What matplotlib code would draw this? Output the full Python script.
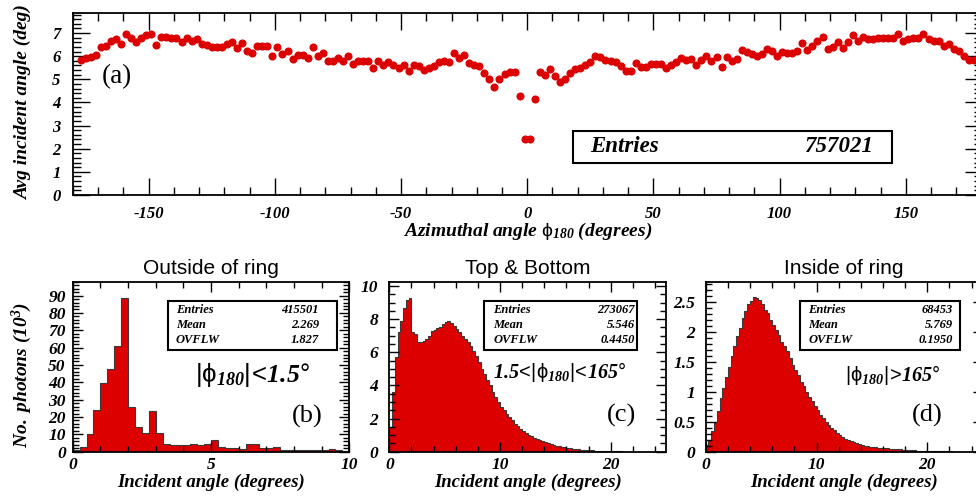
"""
Incident angle study: average incident angle vs azimuth (a)
and incident angle histograms for three azimuthal regions (b)-(d)
"""

import matplotlib
matplotlib.use('Agg')
import matplotlib.pyplot as plt
from matplotlib.patches import Rectangle
from matplotlib.ticker import MultipleLocator, FuncFormatter
import numpy as np

# ---- data ----
# (a) profile, 2 degree bins, centres -177 .. 177
phi_centers = np.arange(-177, 178, 2)
avg_angle = [
    5.84, 5.92, 5.95, 6.06, 6.38, 6.45, 6.67, 6.75, 6.52, 6.95,
    6.78, 6.61, 6.81, 6.90, 6.95, 6.49, 6.85, 6.82, 6.81, 6.81,
    6.61, 6.78, 6.67, 6.75, 6.52, 6.49, 6.38, 6.38, 6.42, 6.52,
    6.61, 6.35, 6.56, 6.23, 6.13, 6.46, 6.46, 6.46, 6.03, 6.38,
    6.09, 6.23, 5.89, 6.06, 6.06, 5.92, 6.42, 5.99, 6.13, 5.80,
    5.80, 5.92, 5.80, 5.99, 5.66, 5.80, 5.80, 5.80, 5.51,
    5.80, 5.63, 5.77, 5.60, 5.48, 5.60, 5.37, 5.63, 5.56, 5.41,
    5.48, 5.56, 5.77, 5.80, 5.74, 6.13, 5.94, 6.06, 5.70, 5.60,
    5.56, 5.27, 5.02, 4.69, 5.02, 5.22, 5.30, 5.30, 4.29, 2.41,
    2.41, 4.16, 5.30, 5.17, 5.45, 5.13, 4.88, 5.02, 5.27, 5.45,
    5.48, 5.63, 5.77, 6.03, 5.96, 5.84, 5.81, 5.77, 5.56, 5.38,
    5.38, 5.70, 5.53, 5.53, 5.67, 5.67, 5.67, 5.48, 5.63,
    5.74, 5.92, 5.82, 5.89, 5.63, 5.84, 6.03, 5.80, 5.96, 5.53,
    5.96, 5.80, 5.89, 6.28, 6.20, 6.10, 5.99, 6.09, 6.31, 6.23,
    6.02, 6.18, 6.13, 6.13, 6.23, 6.57, 6.25, 6.46, 6.64, 6.83,
    6.32, 6.39, 6.61, 6.35, 6.61, 6.90, 6.68, 6.85, 6.75, 6.74,
    6.81, 6.78, 6.78, 6.78, 6.95, 6.68, 6.75, 6.81, 6.78, 6.95,
    6.74, 6.68, 6.68, 6.46, 6.54, 6.32, 6.23, 5.99, 5.82, 5.82,
]

# (b) outside of ring, 0.25 degree bins 0..10 (10^3 photons)
edges_b = np.linspace(0, 10, 41)
counts_b = [
    0.8, 2.9, 10.4, 23.8, 39.7, 47.4, 60.8, 88.7, 25.7, 14.0,
    10.6, 23.6, 10.6, 4.4, 4.0, 3.8, 4.0, 4.2, 3.8, 4.2,
    6.5, 2.9, 2.3, 2.3, 1.7, 4.2, 4.4, 1.9, 1.9, 2.7,
    0.8, 0.8, 0.8, 0.8, 0.8, 0.8, 1.2, 1.3, 0.8, 0.4,
]

# (c) top & bottom, 0.25 degree bins 0..25
edges_c = np.linspace(0, 25, 101)
counts_c = [
    1.5, 3.6, 5.7, 7.2, 7.9, 8.7, 9.15, 9.3, 7.2, 7.1,
    6.6, 6.65, 6.7, 6.8, 7.0, 7.3, 7.35, 7.45, 7.55, 7.7,
    7.85, 7.9, 7.75, 7.6, 7.4, 7.2, 7.0, 6.8, 6.6, 6.4,
    6.1, 5.8, 5.4, 5.0, 4.7, 4.3, 4.0, 3.6, 3.3, 3.0,
    2.7, 2.5, 2.3, 2.1, 1.9, 1.7, 1.55, 1.4, 1.25, 1.1,
    1.0, 0.92, 0.85, 0.76, 0.68, 0.62, 0.56, 0.5, 0.44, 0.4,
    0.36, 0.32, 0.29, 0.26, 0.23, 0.2, 0.18, 0.16, 0.14, 0.13,
    0.11, 0.1, 0.09, 0.08, 0.07, 0.06, 0.05, 0.045, 0.04, 0.035,
    0.03, 0.025, 0.02, 0.015, 0.012, 0.01, 0.008, 0.006, 0.005, 0.004,
    0.003, 0.002, 0.002, 0.001, 0.001, 0, 0, 0, 0, 0,
]

# (d) inside of ring, 0.25 degree bins 0..25
edges_d = np.linspace(0, 25, 101)
counts_d = [
    0.11, 0.2, 0.34, 0.5, 0.68, 0.9, 1.06, 1.25, 1.42, 1.6,
    1.76, 1.93, 2.07, 2.23, 2.35, 2.46, 2.51, 2.58, 2.57, 2.53,
    2.46, 2.37, 2.31, 2.2, 2.12, 2.04, 1.95, 1.84, 1.76, 1.68,
    1.56, 1.45, 1.37, 1.28, 1.17, 1.09, 1.0, 0.92, 0.84, 0.76,
    0.69, 0.62, 0.56, 0.5, 0.45, 0.4, 0.36, 0.32, 0.28, 0.25,
    0.22, 0.2, 0.18, 0.16, 0.14, 0.13, 0.12, 0.1, 0.09, 0.085,
    0.08, 0.075, 0.07, 0.065, 0.06, 0.055, 0.05, 0.05, 0.045, 0.04,
    0.04, 0.035, 0.03, 0.03, 0.025, 0.025, 0.02, 0.02, 0.018, 0.015,
    0.015, 0.012, 0.01, 0.01, 0.008, 0.008, 0.006, 0.005, 0.004, 0.003,
    0.003, 0.002, 0.002, 0.001, 0.001, 0, 0, 0, 0, 0,
]

panel_titles = ['Outside of ring', 'Top & Bottom', 'Inside of ring']
panel_tags = ['(b)', '(c)', '(d)']
# \! cancels the automatic space mathtext puts round relations
cut_labels = [
    r'$\mathrm{|\phi}_{\mathbf{180}}\mathrm{|\!<\!}\mathbf{1.5}\mathrm{°}$',
    r'$\mathbf{1.5}\mathrm{\!<\!|\phi}_{\mathbf{180}}\mathrm{|\!<\!}\mathbf{165}\mathrm{°}$',
    r'$\mathrm{|\phi}_{\mathbf{180}}\mathrm{|\!>\!}\mathbf{165}\mathrm{°}$',
]
cut_sizes = [18.5, 14.5, 14.5]
stats = [
    ('415501', '2.269', '1.827'),
    ('273067', '5.546', '0.4450'),
    ('68453', '5.769', '0.1950'),
]
total_entries = '757021'

RED = '#dc0000'
W, H = 976, 497

plt.rcParams['font.family'] = ['Liberation Serif', 'DejaVu Serif']
plt.rcParams['font.weight'] = 'bold'
plt.rcParams['font.style'] = 'italic'
plt.rcParams['axes.unicode_minus'] = False
plt.rcParams['mathtext.fontset'] = 'custom'
plt.rcParams['mathtext.rm'] = 'Liberation Sans:normal:roman'
plt.rcParams['mathtext.it'] = 'Liberation Serif:normal:italic'
plt.rcParams['mathtext.bf'] = 'Liberation Serif:bold:italic'


def px_axes(fig, left, top, right, bottom):
    """Axes placed in pixel coordinates (origin top-left)"""
    return fig.add_axes([left / W, 1 - bottom / H, (right - left) / W, (bottom - top) / H])


def ftext(fig, x, y, s, **kw):
    return fig.text(x / W, 1 - y / H, s, **kw)


def box(fig, x0, y0, x1, y1, lw=1.5):
    fig.add_artist(Rectangle((x0 / W, 1 - y1 / H), (x1 - x0) / W, (y1 - y0) / H,
                             transform=fig.transFigure, fill=False, lw=lw, ec='black'))


def style_axis(ax, xmaj, xmin, ymaj, ymin, maj_len, min_len, padx, pady, size):
    ax.xaxis.set_major_locator(MultipleLocator(xmaj))
    ax.xaxis.set_minor_locator(MultipleLocator(xmin))
    ax.yaxis.set_major_locator(MultipleLocator(ymaj))
    ax.yaxis.set_minor_locator(MultipleLocator(ymin))
    fmt = FuncFormatter(lambda v, p: f'{v:g}')
    ax.xaxis.set_major_formatter(fmt)
    ax.yaxis.set_major_formatter(fmt)
    ax.tick_params(which='both', direction='in', top=True, right=True, width=1.0)
    ax.tick_params(which='major', length=maj_len)
    ax.tick_params(which='minor', length=min_len)
    ax.tick_params(axis='x', pad=padx, labelsize=size)
    ax.tick_params(axis='y', pad=pady, labelsize=size)
    for sp in ax.spines.values():
        sp.set_linewidth(1.3)


fig = plt.figure(figsize=(W / 100, H / 100), dpi=100)

# ---- (a) average incident angle vs azimuth ----
ax_a = px_axes(fig, 73, 13, 981.5, 195)
ax_a.plot(phi_centers, avg_angle, 'o', color=RED, ms=4.8, mec=RED)
ax_a.set_xlim(-180, 180)
ax_a.set_ylim(0, 7.87)
style_axis(ax_a, 50, 10, 1, 0.2, 12, 6, 8, 9, 12)
ftext(fig, 23, 103, 'Avg incident angle (deg)', rotation=90, ha='center', va='center', fontsize=14)
ftext(fig, 528, 235.5, r'$\mathbf{Azimuthal\ angle\ }\mathrm{\phi}_{\mathbf{180}}\mathbf{\ (degrees)}$',
      ha='center', va='baseline', fontsize=14)
ftext(fig, 117, 77, '(a)', ha='center', va='center', fontsize=19.5,
      fontweight='normal', fontstyle='normal')
box(fig, 572.7, 131, 891.7, 163.3, lw=1.5)
ftext(fig, 590, 147, 'Entries', ha='left', va='center', fontsize=16.5)
ftext(fig, 873, 147, total_entries, ha='right', va='center', fontsize=16.5)

# ---- (b)-(d) incident angle histograms ----
panels = [
    dict(l=72.7, r=349.3, edges=edges_b, counts=counts_b, xlim=10, ylim=98,
         ticks=(5, 1, 10, 2), pady=5, tag=(307.5, 416.5), cut=(195, 382),
         box=(168.3, 336.7), txt=(176, 319)),
    dict(l=389.3, r=666, edges=edges_c, counts=counts_c, xlim=25, ylim=10.26,
         ticks=(10, 2, 2, 0.5), pady=8, tag=(621.5, 415), cut=(493, 378.5),
         box=(484.3, 637.3), txt=(493.3, 635)),
    dict(l=705.7, r=982.7, edges=edges_d, counts=counts_d, xlim=25, ylim=2.84,
         ticks=(10, 2, 0.5, 0.1), pady=7.5, tag=(927.5, 415), cut=(845, 381),
         box=(800, 960), txt=(808.3, 952.7)),
]

for i, p in enumerate(panels):
    ax = px_axes(fig, p['l'], 281.7, p['r'], 451.7)
    ax.stairs(p['counts'], p['edges'], fill=True, color=RED, lw=0)
    ax.stairs(p['counts'], p['edges'], color='#3a3a3a', lw=0.8)
    ax.set_xlim(0, p['xlim'])
    ax.set_ylim(0, p['ylim'])
    xM, xm, yM, ym = p['ticks']
    style_axis(ax, xM, xm, yM, ym, 7.5, 4, 4, p['pady'], 12.5)

    cx = (p['l'] + p['r']) / 2
    ftext(fig, cx, 274, panel_titles[i], ha='center', va='baseline', fontsize=15,
          family='Liberation Sans', fontweight='normal', fontstyle='normal')
    ftext(fig, cx, 486.5, 'Incident angle (degrees)', ha='center', va='baseline', fontsize=13.5)
    ftext(fig, p['tag'][0], p['tag'][1], panel_tags[i], ha='center', va='center',
          fontsize=19, fontweight='normal', fontstyle='normal')
    ftext(fig, p['cut'][0], p['cut'][1], cut_labels[i], ha='left', va='baseline',
          fontsize=cut_sizes[i])

    # statistics box
    bx0, bx1 = p['box']
    box(fig, bx0, 300.5, bx1, 349.5, lw=1.5)
    tl, tr = p['txt']
    for row, (name, val) in enumerate(zip(['Entries', 'Mean', 'OVFLW'], stats[i])):
        y = 310 + 15.2 * row
        ftext(fig, tl, y, name, ha='left', va='center', fontsize=9)
        ftext(fig, tr, y, val, ha='right', va='center', fontsize=9)

ftext(fig, 22, 375, r'$\mathbf{No.\ photons\ (10^{3})}$', rotation=90,
      ha='center', va='center', fontsize=14)

fig.savefig('out.png', dpi=100)
